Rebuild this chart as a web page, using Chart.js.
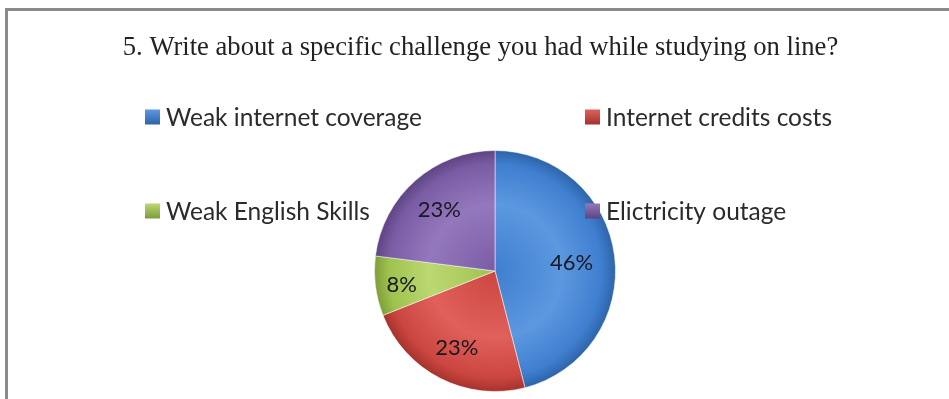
<!DOCTYPE html>
<html>
<head>
<meta charset="utf-8">
<script src="https://cdn.jsdelivr.net/npm/chart.js@4/dist/chart.umd.min.js"></script>
<style>
  html, body { margin: 0; padding: 0; background: #ffffff; }
  #wrap { position: relative; width: 949px; height: 399px; }
</style>
</head>
<body>
<div id="wrap"><canvas id="pie" width="949" height="399"></canvas></div>
<script>
// Survey question and answers
const questionTitle = '5. Write about a specific challenge you had while studying on line?';
const categories = ['Weak internet coverage', 'Internet credits costs', 'Weak English Skills', 'Elictricity outage'];
const shares = [46, 23, 8, 23]; // percent of respondents

// Slice palette: [highlight, base, rim]
const palette = [
  ['#5c98e0', '#3f7fcf', '#2d63a8'],
  ['#e0605b', '#cc4640', '#a4322d'],
  ['#bcd872', '#9fc24f', '#7d9c38'],
  ['#9478bd', '#7a5ca4', '#5d4482']
];

function sliceFill(ctx) {
  const chart = ctx.chart;
  const c = palette[ctx.dataIndex % palette.length];
  const area = chart.chartArea;
  if (!area) return c[1];
  const cx = (area.left + area.right) / 2;
  const cy = (area.top + area.bottom) / 2;
  const r = Math.min(area.right - area.left, area.bottom - area.top) / 2;
  const g = chart.ctx.createRadialGradient(cx, cy, 0, cx, cy, r);
  g.addColorStop(0, c[1]);
  g.addColorStop(0.55, c[0]);
  g.addColorStop(0.88, c[1]);
  g.addColorStop(1, c[2]);
  return g;
}

// Frame and title behind the pie
const framePlugin = {
  id: 'frame',
  beforeDraw(chart) {
    const ctx = chart.ctx;
    ctx.save();
    ctx.fillStyle = '#ffffff';
    ctx.fillRect(0, 0, chart.width, chart.height);
    ctx.fillStyle = '#8a8a8a';
    ctx.fillRect(5, 8, chart.width - 5, 3);
    ctx.fillRect(5, 8, 3, chart.height - 8);
    ctx.fillStyle = '#222222';
    ctx.font = '28px "Liberation Serif", "Times New Roman", serif';
    ctx.textAlign = 'center';
    ctx.textBaseline = 'alphabetic';
    // slightly condensed serif title
    ctx.translate(480.5, 55);
    ctx.scale(0.95, 1);
    ctx.fillText(questionTitle, 0, 0);
    ctx.restore();
  }
};

// Two-column legend flanking the pie
const sideLegend = {
  id: 'sideLegend',
  afterDraw(chart) {
    const ctx = chart.ctx;
    const slots = [[145, 117], [585, 117], [145, 211], [585, 211]];
    const box = 15;
    ctx.save();
    ctx.font = '24.5px Lato, "Open Sans", sans-serif';
    ctx.textBaseline = 'middle';
    ctx.textAlign = 'left';
    chart.data.labels.forEach((label, i) => {
      const [x, y] = slots[i];
      const c = palette[i];
      const g = ctx.createLinearGradient(x, y - box / 2, x, y + box / 2);
      g.addColorStop(0, c[0]);
      g.addColorStop(1, c[2]);
      ctx.fillStyle = g;
      ctx.fillRect(x, y - box / 2, box, box);
      ctx.fillStyle = '#2b2b2b';
      ctx.fillText(label, x + box + 6, y + 1);
    });
    ctx.restore();
  }
};

// Percentage labels inside each slice
const sliceLabels = {
  id: 'sliceLabels',
  afterDatasetsDraw(chart) {
    const ctx = chart.ctx;
    const meta = chart.getDatasetMeta(0);
    ctx.save();
    ctx.font = '22px Lato, "Open Sans", sans-serif';
    ctx.fillStyle = '#181822';
    ctx.textAlign = 'center';
    ctx.textBaseline = 'middle';
    meta.data.forEach((arc, i) => {
      const p = arc.getProps(['x', 'y', 'startAngle', 'endAngle', 'outerRadius'], true);
      const mid = (p.startAngle + p.endAngle) / 2;
      const v = chart.data.datasets[0].data[i];
      const f = v >= 40 ? 0.64 : (v < 10 ? 0.78 : 0.7);
      const lx = p.x + Math.cos(mid) * p.outerRadius * f;
      const ly = p.y + Math.sin(mid) * p.outerRadius * f + 2;
      ctx.fillText(v + '%', lx, ly);
    });
    ctx.restore();
  }
};

new Chart(document.getElementById('pie'), {
  type: 'pie',
  data: {
    labels: categories,
    datasets: [{
      data: shares,
      backgroundColor: sliceFill,
      borderColor: 'rgba(255,255,255,0.5)',
      borderWidth: 1
    }]
  },
  options: {
    responsive: false,
    animation: false,
    layout: { padding: { top: 150, bottom: 7, left: 374, right: 333 } },
    plugins: {
      legend: { display: false },
      tooltip: { enabled: false },
      title: { display: false }
    }
  },
  plugins: [framePlugin, sideLegend, sliceLabels]
});
</script>
</body>
</html>
